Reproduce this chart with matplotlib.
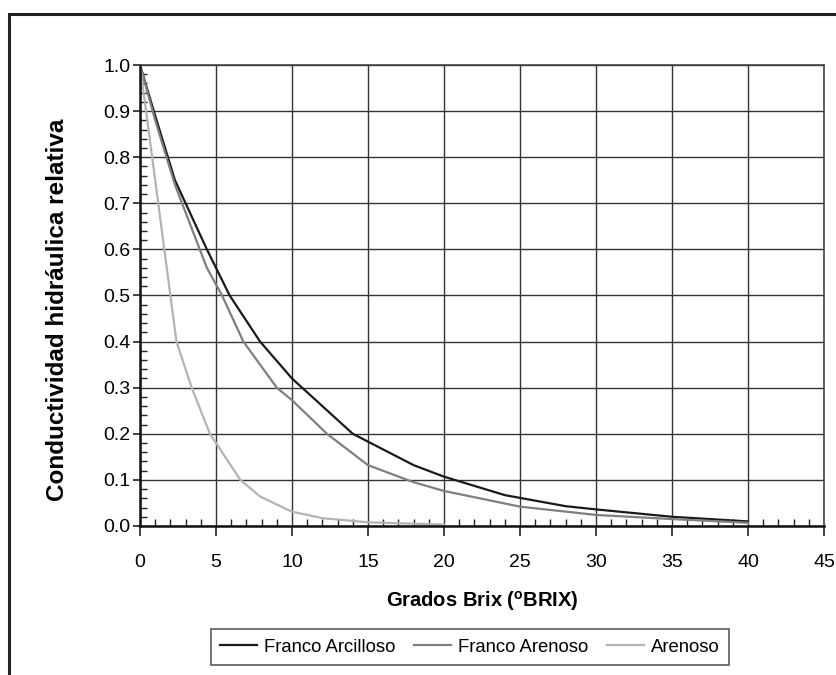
import matplotlib
matplotlib.use('Agg')
import matplotlib.pyplot as plt
from matplotlib.patches import Rectangle
from matplotlib.ticker import MultipleLocator, FormatStrFormatter

# Datos
x_arcilloso = [0, 1, 2.3, 4.4, 5.9, 7.9, 10, 12, 14, 18, 20, 24, 28, 30, 35, 40]
y_arcilloso = [1.0, 0.89, 0.75, 0.60, 0.50, 0.40, 0.32, 0.26, 0.20, 0.132, 0.107,
               0.067, 0.043, 0.036, 0.020, 0.010]

x_franco_arenoso = [0, 1, 2.3, 4.4, 5.4, 6.8, 9, 10, 12.3, 15, 18, 20, 25, 30, 35, 40]
y_franco_arenoso = [1.0, 0.88, 0.74, 0.56, 0.50, 0.40, 0.30, 0.273, 0.20, 0.132, 0.095,
                    0.076, 0.042, 0.024, 0.015, 0.007]

x_arenoso = [0, 1.4, 2, 2.4, 3.4, 4.6, 5, 6.6, 7.9, 10, 12, 15, 20]
y_arenoso = [1.0, 0.65, 0.50, 0.40, 0.30, 0.20, 0.18, 0.10, 0.064, 0.031, 0.017, 0.008, 0.003]

etiquetas = ['Franco Arcilloso', 'Franco Arenoso', 'Arenoso']
colores = ['#1a1a1a', '#7f7f7f', '#b3b3b3']

plt.rcParams['font.family'] = ['Liberation Sans', 'DejaVu Sans']
plt.rcParams['mathtext.fontset'] = 'custom'
plt.rcParams['mathtext.bf'] = 'Liberation Sans:bold'
plt.rcParams['mathtext.rm'] = 'Liberation Sans'

fig = plt.figure(figsize=(8.36, 6.75), dpi=100)
ax = fig.add_axes([140 / 836, 1 - 526 / 675, 684 / 836, 461 / 675])

ax.plot(x_arcilloso, y_arcilloso, color=colores[0], lw=1.6, label=etiquetas[0])
ax.plot(x_franco_arenoso, y_franco_arenoso, color=colores[1], lw=1.6, label=etiquetas[1])
ax.plot(x_arenoso, y_arenoso, color=colores[2], lw=1.6, label=etiquetas[2])

ax.set_xlim(0, 45)
ax.set_ylim(0, 1.0)
ax.xaxis.set_major_locator(MultipleLocator(5))
ax.xaxis.set_minor_locator(MultipleLocator(1))
ax.yaxis.set_major_locator(MultipleLocator(0.1))
ax.yaxis.set_minor_locator(MultipleLocator(0.02))
ax.yaxis.set_major_formatter(FormatStrFormatter('%.1f'))

ax.tick_params(axis='x', which='major', direction='out', length=7, width=1.2,
               labelsize=14, color='#222222', pad=13)
ax.tick_params(axis='y', which='major', direction='out', length=5, width=1.2,
               labelsize=14, color='#222222', pad=2)
ax.tick_params(axis='both', which='minor', direction='in', length=5, width=1.0, color='#222222')

ax.grid(True, which='major', color='#333333', lw=1.0)
ax.set_axisbelow(True)
for s in ax.spines.values():
    s.set_color('#444444')
    s.set_linewidth(1.2)
ax.spines['left'].set_color('#111111')
ax.spines['bottom'].set_color('#111111')
ax.spines['left'].set_linewidth(1.8)
ax.spines['bottom'].set_linewidth(1.8)

ax.set_xlabel(r'Grados Brix ($^{\mathbf{o}}$BRIX)', fontsize=14.5, fontweight='bold')
ax.xaxis.set_label_coords(0.5, -(601 - 526) / 461, transform=ax.transAxes)
ax.xaxis.label.set_va('center')
ax.set_ylabel('Conductividad hidráulica relativa', fontsize=17.5, fontweight='bold')
ax.yaxis.set_label_coords(-(140 - 58) / 684, (526 - 310) / 461, transform=ax.transAxes)
ax.yaxis.label.set_va('center')

leg = ax.legend(loc='center', bbox_to_anchor=(470 / 836, 1 - 647 / 675),
                bbox_transform=fig.transFigure, ncol=3, fontsize=13.3, frameon=True,
                fancybox=False, edgecolor='#333333', handlelength=2.0, handletextpad=0.4,
                columnspacing=1.0, borderpad=0.5)
leg.get_frame().set_linewidth(1.2)

# Marco exterior del grafico
fig.patches.append(Rectangle((9 / 836, -0.1), 1.2, 1.1 - 14 / 675, transform=fig.transFigure,
                             fill=False, edgecolor='#222222', lw=2.2))

fig.savefig('out.png', dpi=100)
